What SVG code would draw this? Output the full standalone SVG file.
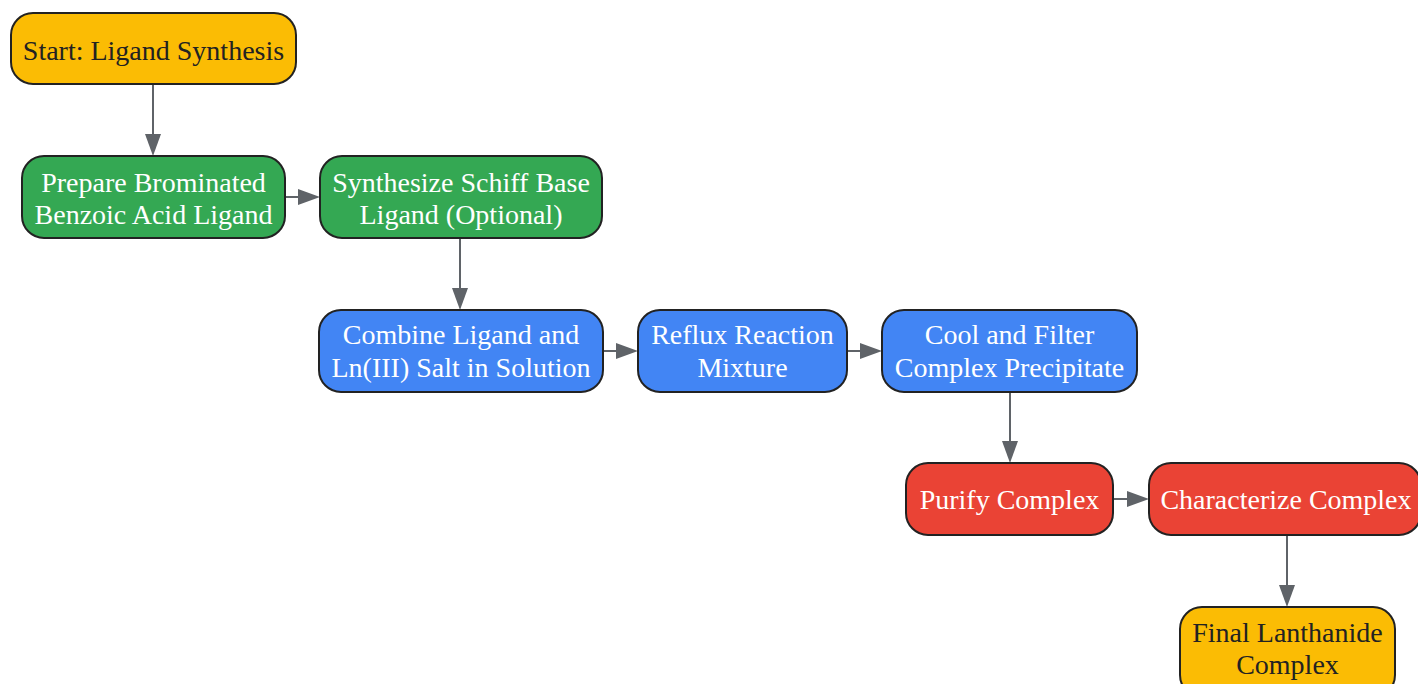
<svg xmlns="http://www.w3.org/2000/svg" width="1418" height="684" viewBox="0 0 1418 684">
<defs>
<style>
.n rect{stroke:#222;stroke-width:2}
.y rect{fill:#FBBC04}
.g rect{fill:#34A853}
.b rect{fill:#4285F4}
.r rect{fill:#EA4335}
text{font-family:"Liberation Serif","Times New Roman",serif;font-size:28px;text-anchor:middle}
.y text{fill:#222}
.g text,.b text,.r text{fill:#fff}
.c path{stroke:#5f6368;stroke-width:2;fill:none}
.c polygon{fill:#5f6368}
</style>
</defs>
<rect width="1418" height="684" fill="#fff"/>
<g class="c" id="connectors">
<path d="M153,84 V136"/><polygon points="145,134 161,134 153,156"/>
<path d="M285,197 H300"/><polygon points="298,189 298,205 320,197"/>
<path d="M460,238 V290"/><polygon points="452,288 468,288 460,310"/>
<path d="M603,351 H618"/><polygon points="616,343 616,359 638,351"/>
<path d="M847,351 H862"/><polygon points="860,343 860,359 882,351"/>
<path d="M1010,392 V443"/><polygon points="1002,441 1018,441 1010,463"/>
<path d="M1113,499 H1129"/><polygon points="1127,491 1127,507 1149,499"/>
<path d="M1287,535 V587"/><polygon points="1279,585 1295,585 1287,607"/>
</g>
<g class="n y" id="start"><rect x="11" y="13" width="285" height="71" rx="22"/><text x="153.5" y="60">Start: Ligand Synthesis</text></g>
<g class="n g" id="prepare"><rect x="22" y="156" width="263" height="82" rx="22"/><text x="153.5" y="192">Prepare Brominated</text><text x="153.5" y="224">Benzoic Acid Ligand</text></g>
<g class="n g" id="schiff"><rect x="320" y="156" width="282" height="82" rx="22"/><text x="461" y="192">Synthesize Schiff Base</text><text x="461" y="224">Ligand (Optional)</text></g>
<g class="n b" id="combine"><rect x="319" y="310" width="284" height="82" rx="22"/><text x="461" y="344">Combine Ligand and</text><text x="461" y="377">Ln(III) Salt in Solution</text></g>
<g class="n b" id="reflux"><rect x="638" y="310" width="209" height="82" rx="22"/><text x="742.5" y="344">Reflux Reaction</text><text x="742.5" y="377">Mixture</text></g>
<g class="n b" id="cool"><rect x="882" y="310" width="255" height="82" rx="22"/><text x="1009.5" y="344">Cool and Filter</text><text x="1009.5" y="377">Complex Precipitate</text></g>
<g class="n r" id="purify"><rect x="906" y="463" width="207" height="72" rx="22"/><text x="1009.5" y="509">Purify Complex</text></g>
<g class="n r" id="characterize"><rect x="1149" y="463" width="272" height="72" rx="22"/><text x="1286" y="509">Characterize Complex</text></g>
<g class="n y" id="final"><rect x="1180" y="607" width="215" height="90" rx="22"/><text x="1287.5" y="642">Final Lanthanide</text><text x="1287.5" y="674">Complex</text></g>
</svg>
